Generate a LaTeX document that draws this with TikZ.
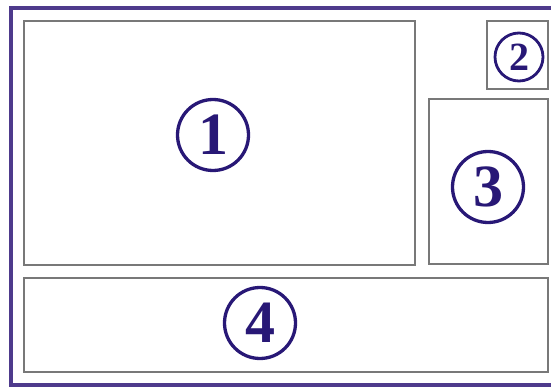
\documentclass[tikz,border=0pt]{standalone}
\usepackage{fontspec}
\setmainfont{Liberation Serif}
\usetikzlibrary{positioning}
\definecolor{frameviolet}{RGB}{78,58,140}
\definecolor{numblue}{RGB}{40,24,118}
\definecolor{panelgray}{RGB}{120,120,120}

\begin{document}
\begin{tikzpicture}[
    x=1pt, y=-1pt,
    panel/.style={draw=panelgray, line width=2.4pt, inner sep=0pt},
    num/.style={draw=numblue, text=numblue, circle, line width=3.3pt, inner sep=0pt,
                font=\bfseries\fontsize{60}{60}\selectfont, minimum size=71pt},
    smallnum/.style={num, line width=2.8pt, minimum size=48pt, font=\bfseries\fontsize{40}{40}\selectfont}
]
\useasboundingbox (0,0) rectangle (551,387);

% outer frame, open at the right
\draw[frameviolet, line width=4pt] (551,8) -- (10.5,8) -- (10.5,384.5) -- (551,384.5);

% panels
\node[panel, minimum width=391pt, minimum height=244pt] (main) at (219.5,143) {};
\node[panel, minimum width=61pt, minimum height=68pt] (corner) at (517.5,55) {};
\node[panel, minimum width=119pt, minimum height=165pt] (side) at (488.5,181.5) {};
\node[panel, minimum width=524pt, minimum height=94pt] (bottom) at (286,325) {};

% numbers
\node[num] (n1) at (213,135) {1};
\node[smallnum] (n2) at (519,57) {2};
\node[num] (n3) at (488,187) {3};
\node[num] (n4) at (260,323) {4};

\end{tikzpicture}
\end{document}
